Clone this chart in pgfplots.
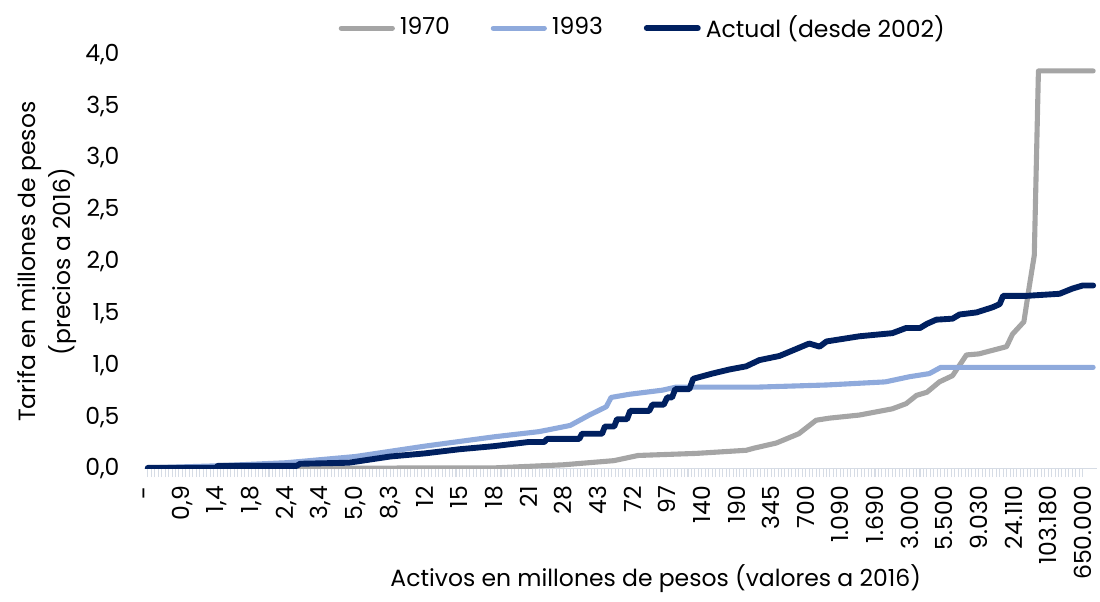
\documentclass[border=0pt]{standalone}
\usepackage{fontspec}
\setmainfont{Poppins}
\usepackage{pgfplots}
\pgfplotsset{compat=1.18}
\definecolor{c1970}{HTML}{A5A5A5}
\definecolor{c1993}{HTML}{8FAADC}
\definecolor{cact}{HTML}{002060}
\definecolor{tickc}{HTML}{D6DCE5}

\begin{document}
\begin{tikzpicture}[font=\fontsize{9.2}{11}\selectfont]
\begin{axis}[
  scale only axis,
  width=373pt, height=162.4pt,
  xmin=-1, xmax=274, ymin=0, ymax=4,
  axis x line*=bottom, axis y line*=left,
  x axis line style={draw=tickc, -},
  y axis line style={draw=none},
  xtick={0,10,...,270},
  xticklabels={{-},{0,9},{1,4},{1,8},{2,4},{3,4},{5,0},{8,3},{12},{15},{18},{21},{28},{43},{72},{97},{140},{190},{345},{700},{1.090},{1.690},{3.000},{5.500},{9.030},{24.110},{103.180},{650.000}},
  xticklabel style={rotate=90, anchor=east},
  minor x tick num=9,
  tick align=outside,
  major tick length=3.2pt, minor tick length=3.2pt,
  x tick style={draw=tickc, line width=0.4pt},
  ytick={0,0.5,...,4},
  y tick style={draw=none},
  /pgf/number format/fixed,
  /pgf/number format/fixed zerofill,
  /pgf/number format/precision=1,
  /pgf/number format/use comma,
  /pgf/number format/assume math mode=true,
  yticklabel style={xshift=-3pt},
  xlabel={Activos en millones de pesos (valores a 2016)},
  xlabel style={at={(axis description cs:0.537,0)}, anchor=center, yshift=-43pt},
  ylabel={Tarifa en millones de pesos\\(precios a 2016)},
  ylabel style={align=center, font=\fontsize{9.2}{13.8}\selectfont, yshift=-3.6pt},
  legend columns=3,
  legend style={draw=none, at={(0.525,1)}, anchor=south, yshift=1pt,
    /tikz/every even column/.append style={column sep=14pt}},
  legend image code/.code={\draw[#1] (0pt,0pt) -- (20pt,0pt);},
  every axis plot/.append style={line join=round, line cap=round},
]
% 1970
\addplot[c1970, line width=2pt] coordinates {
  (0,0.005) (100,0.01) (120,0.04) (134.6,0.08) (141.6,0.13) (158.4,0.15)
  (172.8,0.18) (175,0.20) (181.5,0.25) (188,0.34) (193,0.47) (196.8,0.49)
  (205.5,0.52) (215,0.58) (219,0.63) (222,0.71) (225,0.74) (228.6,0.84)
  (232.4,0.90) (236.4,1.10) (240,1.11) (248,1.18) (249.7,1.30) (253,1.42)
  (254.6,1.77) (256,2.06) (257.2,3.84) (273,3.84)
};
\addlegendentry{1970}
% 1993
\addplot[c1993, line width=2pt] coordinates {
  (0,0.01) (20,0.03) (40,0.06) (60,0.12) (70,0.17) (80,0.22) (100,0.31)
  (113,0.36) (122,0.42) (127.5,0.52) (132.4,0.60) (133.8,0.69) (139,0.72)
  (148.6,0.76) (152.6,0.79) (176.6,0.79) (196,0.81) (213,0.84) (220,0.89)
  (225.7,0.92) (229,0.98) (273,0.98)
};
\addlegendentry{1993}
% Actual (desde 2002)
\addplot[cact, line width=2.3pt] coordinates {
  (0,0.01) (19.7,0.01) (20.2,0.03) (43,0.03) (44,0.05) (58,0.06) (64,0.09)
  (70,0.12) (80,0.15) (90,0.19) (100,0.22) (110,0.26) (114.5,0.26)
  (115.3,0.29) (124.6,0.29) (125.4,0.34) (131.2,0.34) (132,0.41)
  (134.7,0.41) (135.5,0.48) (138.4,0.48) (139.3,0.56) (144.8,0.56)
  (145.7,0.62) (149,0.62) (150,0.69) (151.4,0.69) (152.3,0.77) (156.4,0.77)
  (157.5,0.87) (163,0.92) (168,0.96) (172.8,0.99) (176.6,1.05) (182.4,1.09)
  (186,1.14) (191,1.21) (194,1.18) (196,1.23) (205.5,1.28) (215,1.31)
  (219,1.36) (223,1.36) (225,1.40) (227.7,1.44) (232.4,1.45) (234.4,1.49)
  (239.3,1.51) (244,1.56) (246,1.59) (247,1.67) (253.8,1.67) (263.3,1.69)
  (267,1.74) (270,1.77) (273,1.77)
};
\addlegendentry{Actual (desde 2002)}
\end{axis}
\path ([xshift=-3.6pt]current bounding box.west);
\path ([yshift=2pt]current bounding box.north);
\end{tikzpicture}
\end{document}
